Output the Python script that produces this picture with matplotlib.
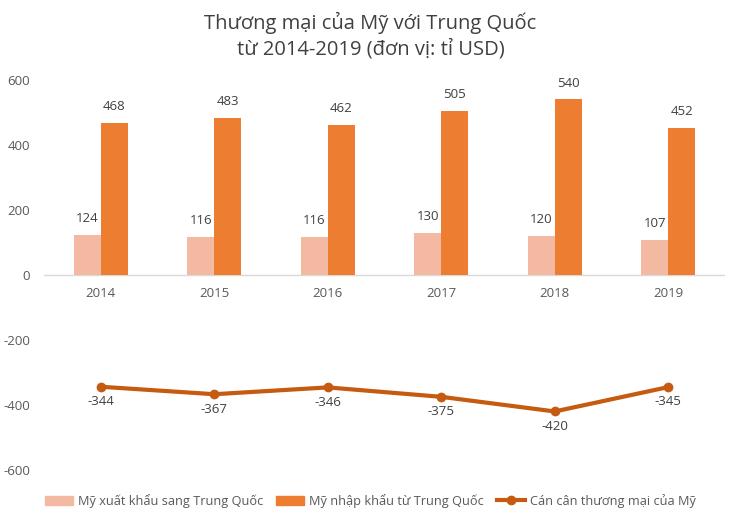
import numpy as np
import matplotlib.pyplot as plt
from matplotlib.patches import Patch
from matplotlib.lines import Line2D

plt.rcParams["font.family"] = ["Open Sans", "DejaVu Sans"]
plt.rcParams["axes.unicode_minus"] = False

# Data (billion USD)
years = ["2014", "2015", "2016", "2017", "2018", "2019"]
exports = [124, 116, 116, 130, 120, 107]
imports = [468, 483, 462, 505, 540, 452]
balance = [-344, -367, -346, -375, -420, -345]

c_exp = "#F4B9A2"
c_imp = "#ED7D31"
c_bal = "#C55A11"
c_txt = "#595959"

fig = plt.figure(figsize=(7.41, 5.19), dpi=100)
ax = fig.add_axes([0.0594, 0.0944, 0.919, 0.752])

x = np.arange(len(years))
w = 0.24
ax.bar(x - w / 2, exports, w, color=c_exp, zorder=2)
ax.bar(x + w / 2, imports, w, color=c_imp, zorder=2)
ax.plot(x, balance, color=c_bal, lw=3, marker="o", ms=6, zorder=3)

# data labels
for i in range(len(years)):
    ax.annotate(str(exports[i]), (x[i] - w / 2, exports[i]), xytext=(0, 7),
                textcoords="offset points", ha="center", va="bottom",
                fontsize=9.5, color="#404040")
    ax.annotate(str(imports[i]), (x[i] + w / 2, imports[i]), xytext=(0, 7),
                textcoords="offset points", ha="center", va="bottom",
                fontsize=9.5, color="#404040")
    ax.annotate(str(balance[i]), (x[i], balance[i]), xytext=(0, -6),
                textcoords="offset points", ha="center", va="top",
                fontsize=9.5, color="#404040")
    # category labels sit just under the zero line
    ax.annotate(years[i], (x[i], 0), xytext=(0, -9),
                textcoords="offset points", ha="center", va="top",
                fontsize=9.5, color=c_txt)

ax.axhline(0, color="#D9D9D9", lw=1, zorder=1)
ax.set_xlim(-0.5, len(years) - 0.5)
ax.set_ylim(-600, 600)
ax.set_yticks([-600, -400, -200, 0, 200, 400, 600])
ax.set_xticks([])
ax.tick_params(axis="y", length=0, labelsize=9.5, labelcolor=c_txt, pad=10)
for s in ax.spines.values():
    s.set_visible(False)

fig.text(0.5, 0.978, "Thương mại của Mỹ với Trung Quốc\ntừ 2014-2019 (đơn vị: tỉ USD)",
         ha="center", va="top", fontsize=14.5, color="#404040", linespacing=1.35)

handles = [
    Patch(color=c_exp, label="Mỹ xuất khẩu sang Trung Quốc"),
    Patch(color=c_imp, label="Mỹ nhập khẩu từ Trung Quốc"),
    Line2D([], [], color=c_bal, lw=3, marker="o", ms=6, label="Cán cân thương mại của Mỹ"),
]
fig.legend(handles=handles, loc="lower center", bbox_to_anchor=(0.5, 0.0), ncol=3,
           frameon=False, fontsize=9.2, handlelength=2.2, handletextpad=0.4,
           columnspacing=1.0, labelcolor=c_txt)

fig.savefig("out.png", dpi=100)
